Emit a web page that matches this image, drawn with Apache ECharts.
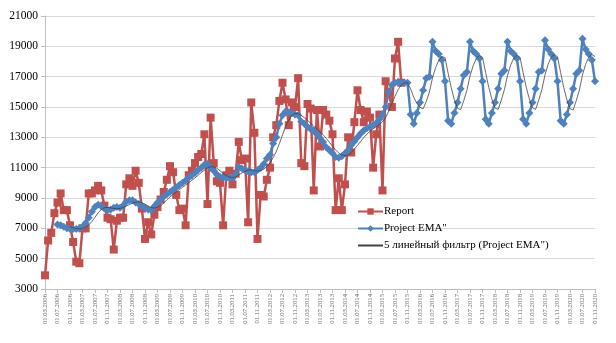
<!DOCTYPE html>
<html>
<head>
<meta charset="utf-8">
<script src="https://cdn.jsdelivr.net/npm/echarts@6/dist/echarts.min.js"></script>
<style>
html,body{margin:0;padding:0;background:#fff;}
#chart{width:616px;height:343px;}
</style>
</head>
<body>
<div id="chart"></div>
<script>
// Monthly categories 01.03.2006 .. 01.11.2020
const firstYear = 2006, firstMonth = 3, monthCount = 177;
const categories = [];
for (let i = 0; i < monthCount; i++) {
  const mm = (firstMonth - 1 + i) % 12 + 1;
  const yy = firstYear + Math.floor((firstMonth - 1 + i) / 12);
  categories.push('01.' + (mm < 10 ? '0' + mm : mm) + '.' + yy);
}

const seriesNames = ['Report', 'Project EMA"', '5 линейный фильтр (Project EMA")'];

// Report: 01.03.2006 .. 01.01.2016
const report = [
  3900, 6200, 6700, 8000, 8700, 9300, 8200, 8200, 7200, 6100,
  4800, 4700, 7000, 7000, 9300, 9300, 9500, 9800, 9500, 8500,
  7700, 7600, 5600, 7500, 7700, 7700, 9900, 10300, 9800, 10800,
  10000, 8300, 6300, 7400, 6600, 7900, 8400, 8900, 9400, 10200,
  11100, 10700, 9200, 8200, 8300, 7200, 10500, 10800, 11300, 11700,
  11900, 13200, 8600, 14300, 11300, 10100, 10000, 7200, 10500, 10800,
  9900, 10600, 12700, 11500, 11600, 7400, 15300, 13300, 6300, 9200,
  9100, 10200, 11000, 13000, 13800, 15400, 16600, 15500, 13800, 15300,
  15000, 16900, 11300, 11100, 15200, 14900, 9500, 14800, 12400, 14800,
  14500, 14100, 13200, 8200, 10300, 8200, 9900, 13000, 12000, 14000,
  16100, 14800, 14000, 14700, 14300, 11000, 13200, 14500, 9500, 16700,
  15900, 15000, 18200, 19300, 16600
];

// Project EMA": starts at 01.07.2006 (4 months after the first category)
const emaStartIndex = 4;
const projectEma = [
  7250, 7200, 7100, 7000, 6950, 6950, 6950, 7000, 7100, 7350,
  7700, 8100, 8400, 8550, 8450, 8300, 8200, 8250, 8350, 8400,
  8350, 8500, 8750, 8850, 8850, 8700, 8600, 8450, 8350, 8250,
  8200, 8450, 8700, 8900, 9100, 9250, 9400, 9550, 9700, 9850,
  10000, 10150, 10350, 10500, 10650, 10850, 11000, 11200, 11250, 11000,
  10800, 10550, 10400, 10350, 10300, 10350, 10300, 10600, 11050, 10950,
  10850, 10750, 10700, 10700, 10850, 11000, 11250, 11600, 11850, 12600,
  13000, 13900, 14450, 14700, 14650, 14580, 14500, 14450, 14050, 13900,
  13700, 13550, 13450, 13200, 12950, 12700, 12350, 12150, 11950, 11700,
  11650, 11750, 11950, 12150, 12500, 12750, 13000, 13250, 13450, 13600,
  13700, 13800, 13950, 14200, 14500, 15000, 16000, 16450, 16600, 16650,
  16600, 16600, 16600, 14500, 13900, 14600, 15300, 16100, 16900, 17000,
  19300, 18700, 18500, 18100, 16700, 14100, 13900, 14600, 15300, 16200, 17100, 17300,
  19300, 18700, 18500, 18200, 16700, 14200, 13900, 14600, 15300, 16200, 17200, 17400,
  19300, 18700, 18500, 18200, 16700, 14200, 13900, 14600, 15300, 16200, 17300, 17400,
  19400, 18800, 18500, 18200, 16700, 14100, 13900, 14500, 15300, 16200, 17200, 17400,
  19500, 18800, 18500, 18100, 16700
];

const yTicks = { min: 3000, max: 21000, interval: 2000 };
const maPeriod = 5;

// align EMA to categories
const emaData = new Array(emaStartIndex).fill(null).concat(projectEma);
// Excel-style 5-period moving-average trendline of Project EMA"
const maData = emaData.map((v, i) => {
  if (i < maPeriod - 1) return null;
  const w = emaData.slice(i - maPeriod + 1, i + 1);
  if (w.some(x => x === null)) return null;
  return w.reduce((a, b) => a + b, 0) / maPeriod;
});

const chart = echarts.init(document.getElementById('chart'), null, { renderer: 'canvas' });
chart.setOption({
  animation: false,
  backgroundColor: '#fff',
  grid: { left: 45, right: 21, top: 16, bottom: 54, containLabel: false },
  legend: {
    orient: 'vertical',
    left: 357,
    top: 206,
    padding: 0,
    itemWidth: 25,
    itemHeight: 8,
    itemGap: 6,
    textStyle: { fontFamily: 'Liberation Serif', fontSize: 11, color: '#000', padding: [0, 0, 0, -4] },
    data: [
      { name: seriesNames[0] },
      { name: seriesNames[1] },
      { name: seriesNames[2], itemStyle: { opacity: 0 } }
    ]
  },
  xAxis: {
    type: 'category',
    data: categories,
    boundaryGap: false,
    axisLine: { show: true, lineStyle: { color: '#bfbfbf', width: 1 } },
    axisTick: { show: true, interval: 3, length: 4, lineStyle: { color: '#bfbfbf' } },
    axisLabel: {
      interval: 3,
      rotate: 90,
      fontFamily: 'Liberation Serif',
      fontSize: 6.7,
      color: '#6b6b6b',
      margin: 5
    },
    splitLine: { show: false }
  },
  yAxis: {
    type: 'value',
    min: yTicks.min,
    max: yTicks.max,
    interval: yTicks.interval,
    axisLine: { show: true, lineStyle: { color: '#bfbfbf', width: 1 } },
    axisTick: { show: true, length: 4, lineStyle: { color: '#bfbfbf' } },
    axisLabel: {
      fontFamily: 'Liberation Serif', fontSize: 11.5, color: '#000', margin: 7,
      formatter: v => String(v)
    },
    splitLine: { show: true, lineStyle: { color: '#d9d9d9', width: 1 } }
  },
  series: [
    {
      name: seriesNames[0],
      type: 'line',
      data: report,
      symbol: 'rect',
      symbolSize: 8,
      showAllSymbol: true,
      lineStyle: { color: '#C0504D', width: 2.5 },
      itemStyle: { color: '#C0504D' },
      z: 2
    },
    {
      name: seriesNames[1],
      type: 'line',
      data: emaData,
      symbol: 'diamond',
      symbolSize: 8,
      showAllSymbol: true,
      connectNulls: false,
      lineStyle: { color: '#4F81BD', width: 2.5 },
      itemStyle: { color: '#4F81BD' },
      z: 3
    },
    {
      name: seriesNames[2],
      type: 'line',
      data: maData,
      symbol: 'none',
      lineStyle: { color: '#444', width: 0.8 },
      itemStyle: { color: '#444' },
      z: 4
    }
  ]
});
</script>
</body>
</html>
